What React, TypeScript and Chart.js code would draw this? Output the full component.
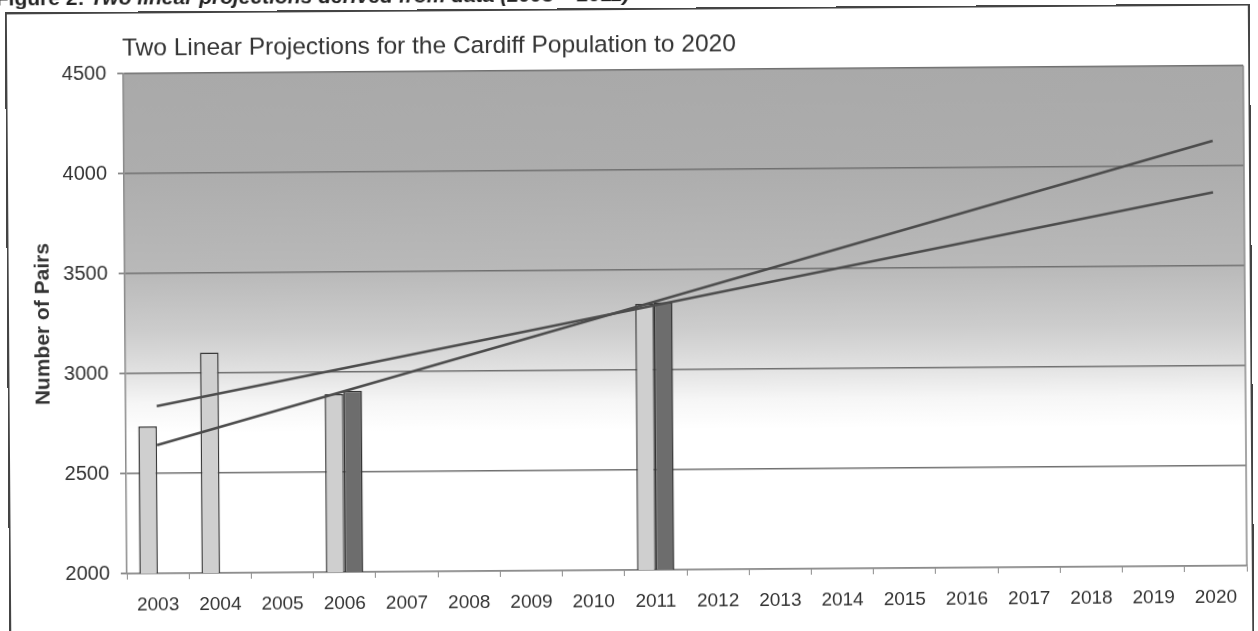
import React, { useEffect, useRef } from "react";
import { Chart, registerables } from "chart.js";

Chart.register(...registerables);

const years = [
  "2003", "2004", "2005", "2006", "2007", "2008", "2009", "2010", "2011",
  "2012", "2013", "2014", "2015", "2016", "2017", "2018", "2019", "2020",
];
const countsLight = [2735, 3102, null, 2890, null, null, null, null, 3330, null, null, null, null, null, null, null, null, null];
const countsDark = [null, null, null, 2905, null, null, null, null, 3338, null, null, null, null, null, null, null, null, null];
const projectionSteep = [2641, null, null, null, null, null, null, null, null, null, null, null, null, null, null, null, null, 4125];
const projectionShallow = [2836, null, null, null, null, null, null, null, null, null, null, null, null, null, null, null, null, 3868];
const yTicks = [2000, 2500, 3000, 3500, 4000, 4500];
const gradientStops: [number, string][] = [
  [4500, "#a9a9a9"],
  [4000, "#adadad"],
  [3500, "#b9b9b9"],
  [3200, "#cdcdcd"],
  [3000, "#e2e2e2"],
  [2850, "#f6f6f6"],
  [2700, "#ffffff"],
];

const FONT = "'Liberation Sans', Arial, Helvetica, sans-serif";

const bgPlugin = {
  id: "plotBackground",
  beforeDraw(chart: any) {
    const { ctx, chartArea, scales } = chart;
    ctx.save();
    ctx.fillStyle = "#ffffff";
    ctx.fillRect(0, 0, chart.width, chart.height);
    const y = scales.y;
    const top = y.getPixelForValue(4500);
    const bottom = y.getPixelForValue(2000);
    const g = ctx.createLinearGradient(0, top, 0, bottom);
    gradientStops.forEach(([v, c]) => g.addColorStop((4500 - v) / 2500, c));
    ctx.fillStyle = g;
    ctx.fillRect(chartArea.left, chartArea.top, chartArea.right - chartArea.left, chartArea.bottom - chartArea.top);
    ctx.restore();
  },
  beforeDatasetsDraw(chart: any) {
    const { ctx, chartArea } = chart;
    ctx.save();
    ctx.strokeStyle = "#8a8a8a";
    ctx.lineWidth = 1.5;
    ctx.beginPath();
    ctx.moveTo(chartArea.right, chartArea.top);
    ctx.lineTo(chartArea.right, chartArea.bottom);
    ctx.stroke();
    ctx.restore();
  },
};

export default function App() {
  const ref = useRef<HTMLCanvasElement | null>(null);

  useEffect(() => {
    if (!ref.current) return;
    const chart = new Chart(ref.current, {
      type: "bar",
      data: {
        labels: years,
        datasets: [
          {
            type: "line",
            label: "Projection (steep)",
            data: projectionSteep,
            borderColor: "#4c4c4c",
            borderWidth: 2.5,
            pointRadius: 0,
            spanGaps: true,
            tension: 0,
            order: 0,
          } as any,
          {
            type: "line",
            label: "Projection (shallow)",
            data: projectionShallow,
            borderColor: "#4c4c4c",
            borderWidth: 2.5,
            pointRadius: 0,
            spanGaps: true,
            tension: 0,
            order: 0,
          } as any,
          {
            type: "bar",
            label: "Count A",
            data: countsLight,
            backgroundColor: "#cfcfcf",
            borderColor: "#383838",
            borderWidth: 1.5,
            categoryPercentage: 0.6,
            barPercentage: 1,
            order: 1,
          } as any,
          {
            type: "bar",
            label: "Count B",
            data: countsDark,
            backgroundColor: "#6d6d6d",
            borderColor: "#333333",
            borderWidth: 1.5,
            categoryPercentage: 0.6,
            barPercentage: 1,
            order: 1,
          } as any,
        ],
      },
      options: {
        responsive: false,
        animation: false,
        layout: { padding: { top: 70, right: 13, bottom: 0, left: 0 } },
        plugins: {
          legend: { display: false },
          tooltip: { enabled: false },
          title: { display: false },
        },
        scales: {
          x: {
            offset: true,
            grid: {
              display: true,
              offset: true,
              drawOnChartArea: false,
              tickLength: 6,
              color: "#8a8a8a",
            },
            border: { color: "#8a8a8a", width: 1.5 },
            ticks: {
              autoSkip: false,
              maxRotation: 0,
              padding: 14,
              color: "#333333",
              font: { family: FONT, size: 19 },
            },
            afterFit(scale: any) {
              scale.height = 61;
            },
          },
          y: {
            min: 2000,
            max: 4500,
            afterBuildTicks(scale: any) {
              scale.ticks = yTicks.map((v) => ({ value: v }));
            },
            grid: {
              color: "#707070",
              lineWidth: 1.5,
              tickLength: 6,
              drawTicks: true,
            },
            border: { color: "#8a8a8a", width: 1.5 },
            ticks: {
              padding: 11,
              color: "#333333",
              font: { family: FONT, size: 20 },
              callback: (v: any) => String(v),
            },
            title: {
              display: true,
              text: "Number of Pairs",
              color: "#333333",
              font: { family: FONT, size: 21, weight: "bold" },
              padding: { top: 31, bottom: 0 },
            },
            afterFit(scale: any) {
              scale.width = 125;
            },
          },
        },
      },
      plugins: [bgPlugin],
    });
    return () => chart.destroy();
  }, []);

  return (
    <div
      style={{
        position: "fixed",
        left: 0,
        top: 0,
        width: 1258,
        height: 631,
        overflow: "hidden",
        background: "#ffffff",
      }}
    >
      <div
        style={{
          position: "absolute",
          left: 0,
          top: 0,
          width: 1258,
          height: 631,
          transform: "rotate(-0.41deg)",
          transformOrigin: "629px 315px",
        }}
      >
        <canvas
          ref={ref}
          width={1258}
          height={631}
          style={{ position: "absolute", left: 0, top: 0, width: 1258, height: 631, display: "block" }}
        />
        <div
          style={{
            position: "absolute",
            left: -2,
            top: -17,
            whiteSpace: "nowrap",
            fontFamily: FONT,
            fontSize: 21,
            fontWeight: "bold",
            lineHeight: "21px",
            color: "#222",
          }}
        >
          Figure 2: <i>Two linear projections derived from data (2003 – 2011)</i>
        </div>
        <div
          style={{
            position: "absolute",
            left: 7,
            top: 8,
            width: 1245,
            height: 640,
            borderLeft: "2px solid #444",
            borderTop: "2px solid #444",
            borderRight: "2px solid #444",
            boxSizing: "border-box",
          }}
        />
        <div
          style={{
            position: "absolute",
            left: 124,
            top: 32,
            whiteSpace: "nowrap",
            fontFamily: FONT,
            fontSize: 24.5,
            lineHeight: "24px",
            color: "#333333",
          }}
        >
          Two Linear Projections for the Cardiff Population to 2020
        </div>
      </div>
    </div>
  );
}
